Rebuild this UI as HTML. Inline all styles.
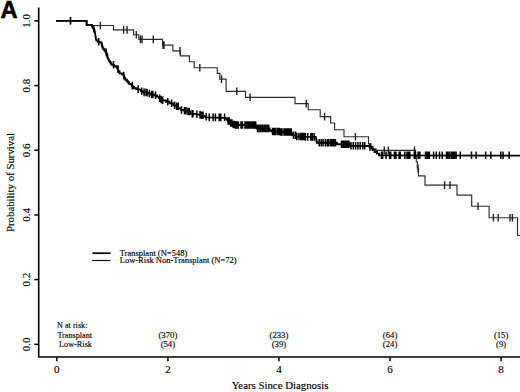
<!DOCTYPE html>
<html><head><meta charset="utf-8"><style>
html,body{margin:0;padding:0;background:#fff;width:520px;height:392px;overflow:hidden}
svg{display:block}
text{font-family:"Liberation Serif",serif;fill:#000;stroke:#000;stroke-width:0.15px}
.tk{font-size:11px}
.ax{font-size:10.8px}
.lg{font-size:8.5px}
.rk{font-size:8.7px}
.A{font-family:"Liberation Sans",sans-serif;font-weight:bold;font-size:23.6px;stroke:#000;stroke-width:0.6px}
</style></head><body>
<svg width="520" height="392" viewBox="0 0 520 392">
<path d="M38.7,7.5 V357 H520" fill="none" stroke="#000" stroke-width="1.6"/>
<path d="M34.3,344.30 H38" stroke="#000" stroke-width="1.5"/>
<text transform="translate(29.9,344.30) rotate(-90)" text-anchor="middle" class="tk">0.0</text>
<path d="M34.3,279.62 H38" stroke="#000" stroke-width="1.5"/>
<text transform="translate(29.9,279.62) rotate(-90)" text-anchor="middle" class="tk">0.2</text>
<path d="M34.3,214.94 H38" stroke="#000" stroke-width="1.5"/>
<text transform="translate(29.9,214.94) rotate(-90)" text-anchor="middle" class="tk">0.4</text>
<path d="M34.3,150.26 H38" stroke="#000" stroke-width="1.5"/>
<text transform="translate(29.9,150.26) rotate(-90)" text-anchor="middle" class="tk">0.6</text>
<path d="M34.3,85.58 H38" stroke="#000" stroke-width="1.5"/>
<text transform="translate(29.9,85.58) rotate(-90)" text-anchor="middle" class="tk">0.8</text>
<path d="M34.3,20.90 H38" stroke="#000" stroke-width="1.5"/>
<text transform="translate(29.9,20.90) rotate(-90)" text-anchor="middle" class="tk">1.0</text>
<path d="M56.80,357.5 V361.3" stroke="#000" stroke-width="1.5"/>
<text x="56.80" y="373.4" text-anchor="middle" class="tk">0</text>
<path d="M167.88,357.5 V361.3" stroke="#000" stroke-width="1.5"/>
<text x="167.88" y="373.4" text-anchor="middle" class="tk">2</text>
<path d="M278.96,357.5 V361.3" stroke="#000" stroke-width="1.5"/>
<text x="278.96" y="373.4" text-anchor="middle" class="tk">4</text>
<path d="M390.04,357.5 V361.3" stroke="#000" stroke-width="1.5"/>
<text x="390.04" y="373.4" text-anchor="middle" class="tk">6</text>
<path d="M501.12,357.5 V361.3" stroke="#000" stroke-width="1.5"/>
<text x="501.12" y="373.4" text-anchor="middle" class="tk">8</text>
<text x="280" y="389.3" text-anchor="middle" class="ax">Years Since Diagnosis</text>
<text transform="translate(14.2,182.5) rotate(-90)" text-anchor="middle" class="ax">Probability of Survival</text>
<polyline points="56.00,20.80 87.00,20.80 87.00,25.50 113.50,25.50 113.50,29.90 133.60,29.90 133.60,34.70 138.80,34.70 138.80,39.40 162.50,39.40 162.50,45.10 172.90,45.10 172.90,50.80 180.40,50.80 180.40,55.90 189.40,55.90 189.40,61.70 194.20,61.70 194.20,67.70 217.30,67.70 217.30,73.40 219.80,73.40 219.80,79.10 226.10,79.10 226.10,91.30 245.50,91.30 245.50,97.30 295.00,97.30 295.00,103.60 308.20,103.60 308.20,109.70 320.20,109.70 320.20,116.60 330.60,116.60 330.60,123.00 334.60,123.00 334.60,129.70 344.00,129.70 344.00,136.70 368.50,136.70 368.50,143.80 371.00,143.80 371.00,146.30 373.00,146.30 373.00,148.80 376.00,148.80 376.00,150.40 415.50,150.40 415.50,156.00 416.30,156.00 416.30,161.70 417.30,161.70 417.30,168.00 418.50,168.00 418.50,175.90 425.00,175.90 425.00,185.10 457.00,185.10 457.00,195.10 471.70,195.10 471.70,206.20 489.10,206.20 489.10,217.70 517.50,217.70 517.50,235.50 521.00,235.50" fill="none" stroke="#2b2b2b" stroke-width="1.15"/>
<polyline points="56.00,20.80 86.50,20.80 86.50,25.00 91.50,25.00 91.88,25.00 91.88,26.25 92.62,26.25 92.62,27.50 93.00,27.50 93.38,27.50 93.38,28.75 94.12,28.75 94.12,30.00 94.50,30.00 95.00,33.00 95.50,36.00 96.00,39.50 96.58,39.50 96.58,40.65 97.72,40.65 97.72,41.80 98.30,41.80 99.80,41.80 99.80,42.40 101.30,42.40 101.52,42.40 101.52,44.13 101.95,44.13 101.95,45.87 102.38,45.87 102.38,47.60 102.60,47.60 103.27,47.60 103.27,49.25 104.62,49.25 104.62,50.90 105.30,50.90 105.67,50.90 105.67,52.40 106.42,52.40 106.42,53.90 106.80,53.90 106.97,53.90 106.97,55.20 107.30,55.20 107.30,56.50 107.63,56.50 107.63,57.80 107.80,57.80 108.30,59.50 108.83,59.50 108.83,60.90 109.88,60.90 109.88,62.30 110.40,62.30 110.83,62.30 110.83,63.55 111.67,63.55 111.67,64.80 112.10,64.80 113.90,64.80 113.90,66.20 115.70,66.20 116.60,66.20 116.60,67.50 117.50,67.50 117.72,67.50 117.72,69.30 118.18,69.30 118.18,71.10 118.40,71.10 119.50,71.10 119.50,73.30 120.60,73.30 121.95,73.30 121.95,74.20 123.30,74.20 123.52,74.20 123.52,75.53 123.95,75.53 123.95,76.87 124.38,76.87 124.38,78.20 124.60,78.20 125.35,78.20 125.35,79.70 126.85,79.70 126.85,81.20 127.60,81.20 128.07,81.20 128.07,82.50 129.03,82.50 129.03,83.80 129.50,83.80 130.55,83.80 130.55,84.40 131.60,84.40 132.00,84.40 132.00,85.60 132.80,85.60 132.80,86.80 133.20,86.80 134.05,86.80 134.05,88.20 134.90,88.20 136.30,88.20 136.30,89.10 137.70,89.10 140.00,89.60 141.00,89.60 141.00,91.30 142.00,91.30 143.25,91.30 143.25,92.40 144.50,92.40 147.00,92.80 148.25,92.80 148.25,93.50 149.50,93.50 150.75,93.50 150.75,94.50 152.00,94.50 153.75,94.50 153.75,95.30 155.50,95.30 157.00,95.30 157.00,96.80 158.50,96.80 159.00,96.80 159.00,98.15 160.00,98.15 160.00,99.50 160.50,99.50 162.35,99.50 162.35,100.30 164.20,100.30 166.00,100.30 166.00,101.70 167.80,101.70 169.55,101.70 169.55,103.30 171.30,103.30 173.35,103.30 173.35,105.30 175.40,105.30 176.30,105.30 176.30,106.20 177.20,106.20 178.30,106.20 178.30,108.40 179.40,108.40 181.05,108.40 181.05,110.00 182.70,110.00 184.40,110.00 184.40,110.70 186.10,110.70 187.80,110.70 187.80,111.50 189.50,111.50 190.50,111.50 190.50,113.70 191.50,113.70 196.70,114.20 199.30,114.80 201.30,115.30 203.30,115.80 204.40,115.80 204.40,116.80 205.50,116.80 206.25,116.80 206.25,117.40 207.00,117.40 225.00,117.80 225.75,117.80 225.75,118.50 226.50,118.50 227.00,118.50 227.00,119.75 228.00,119.75 228.00,121.00 228.50,121.00 229.75,121.00 229.75,123.00 231.00,123.00 232.50,123.00 232.50,124.50 234.00,124.50 235.00,125.00 256.00,125.00 256.50,128.40 268.80,128.40 269.65,128.40 269.65,130.50 270.50,130.50 271.50,130.50 271.50,131.50 272.50,131.50 280.00,132.00 291.40,132.60 291.67,132.60 291.67,133.95 292.23,133.95 292.23,135.30 292.50,135.30 296.25,135.30 296.25,136.50 300.00,136.50 305.00,136.90 315.80,136.90 316.30,140.00 316.48,140.00 316.48,141.35 316.82,141.35 316.82,142.70 317.00,142.70 336.90,142.70 337.00,144.20 349.80,144.20 350.00,145.80 366.50,145.80 368.00,146.00 369.50,146.00 369.50,147.00 371.00,147.00 371.50,147.00 371.50,148.50 372.50,148.50 372.50,150.00 373.00,150.00 374.50,150.00 374.50,152.00 376.00,152.00 377.00,152.00 377.00,153.65 379.00,153.65 379.00,155.30 380.00,155.30 520.00,155.60" fill="none" stroke="#000" stroke-width="1.85"/>
<path d="M70.5,17.0V24.6M100.4,21.7V29.3M123.6,26.1V33.7M127.1,26.1V33.7M136.3,30.9V38.5M140.4,35.6V43.2M142.1,35.6V43.2M153.3,35.6V43.2M163.0,41.3V48.9M164.0,41.3V48.9M180.0,47.0V54.6M199.8,63.9V71.5M221.5,75.3V82.9M236.8,87.5V95.1M250.1,93.5V101.1M306.3,99.8V107.4M324.6,112.8V120.4M355.4,132.9V140.5M384.3,146.6V154.2M388.3,146.6V154.2M414.5,146.6V154.2M418.0,164.2V171.8M444.6,181.3V188.9M450.0,181.3V188.9M478.0,202.4V210.0M493.4,213.9V221.5M498.2,213.9V221.5M510.0,213.9V221.5M512.4,213.9V221.5" stroke="#222" stroke-width="1.4"/>
<path d="M70.5,17.0V24.6M93.7,24.9V32.5M98.8,38.0V45.6M106.3,48.6V56.2M113.5,61.0V68.6M118.0,65.5V73.1M123.7,71.7V79.3M132.2,81.8V89.4M138.1,85.3V92.9M141.8,87.5V95.1M144.1,88.6V96.2M146.1,88.6V96.2M147.1,89.0V96.6M149.4,89.7V97.3M151.7,90.7V98.3M152.8,90.7V98.3M155.5,91.5V99.1M159.6,94.4V102.0M161.1,95.7V103.3M162.7,96.5V104.1M167.8,97.9V105.5M171.6,99.5V107.1M174.6,101.5V109.1M176.6,102.4V110.0M177.4,102.4V110.0M178.2,102.4V110.0M181.5,106.2V113.8M184.5,106.9V114.5M186.0,106.9V114.5M188.0,107.7V115.3M189.2,107.7V115.3M192.2,109.9V117.5M193.0,109.9V117.5M196.8,110.4V118.0M200.0,111.0V118.6M201.5,111.5V119.1M203.0,111.5V119.1M206.2,113.0V120.6M209.2,113.6V121.2M213.1,113.6V121.2M215.4,113.6V121.2M219.2,113.6V121.2M220.8,113.6V121.2M224.6,113.6V121.2M228.0,117.2V124.8M229.3,117.2V124.8M230.6,119.2V126.8M231.9,119.2V126.8M233.2,120.7V128.3M234.5,120.7V128.3M235.8,121.2V128.8M237.1,121.2V128.8M238.4,121.2V128.8M241.0,121.2V128.8M242.5,121.2V128.8M245.0,121.2V128.8M246.3,121.2V128.8M247.6,121.2V128.8M248.9,121.2V128.8M250.2,121.2V128.8M251.8,121.2V128.8M253.1,121.2V128.8M254.4,121.2V128.8M255.7,121.2V128.8M257.5,124.6V132.2M259.1,124.6V132.2M260.7,124.6V132.2M262.3,124.6V132.2M263.9,124.6V132.2M265.5,124.6V132.2M267.1,124.6V132.2M268.7,124.6V132.2M272.6,127.7V135.3M273.7,127.7V135.3M274.8,127.7V135.3M275.9,127.7V135.3M277.8,127.7V135.3M279.2,127.7V135.3M280.6,128.2V135.8M282.0,128.2V135.8M284.0,128.2V135.8M285.3,128.2V135.8M286.6,128.2V135.8M287.9,128.2V135.8M288.8,128.2V135.8M290.0,128.2V135.8M291.2,128.2V135.8M293.5,131.5V139.1M295.5,131.5V139.1M296.8,132.7V140.3M299.0,132.7V140.3M300.8,132.7V140.3M301.9,132.7V140.3M303.1,132.7V140.3M304.2,132.7V140.3M305.4,133.1V140.7M307.7,133.1V140.7M310.8,133.1V140.7M312.3,133.1V140.7M314.2,133.1V140.7M319.2,138.9V146.5M321.2,138.9V146.5M323.1,138.9V146.5M325.4,138.9V146.5M327.3,138.9V146.5M328.8,138.9V146.5M330.8,138.9V146.5M332.3,138.9V146.5M333.8,138.9V146.5M335.4,138.9V146.5M341.5,140.4V148.0M342.7,140.4V148.0M344.0,140.4V148.0M345.2,140.4V148.0M346.5,140.4V148.0M347.7,140.4V148.0M349.0,140.4V148.0M351.0,142.0V149.6M353.3,142.0V149.6M355.6,142.0V149.6M357.9,142.0V149.6M360.2,142.0V149.6M362.8,142.0V149.6M364.8,142.0V149.6M370.0,143.2V150.8M381.5,151.5V159.1M382.6,151.5V159.1M386.1,151.5V159.1M389.6,151.5V159.1M390.7,151.5V159.1M394.5,151.5V159.1M395.9,151.5V159.1M399.1,151.5V159.1M400.2,151.5V159.1M404.9,151.5V159.1M407.1,151.5V159.1M408.6,151.5V159.1M409.8,151.5V159.1M414.4,151.5V159.1M415.5,151.5V159.1M418.2,151.5V159.1M419.8,151.5V159.1M425.5,151.5V159.1M427.1,151.5V159.1M428.6,151.5V159.1M429.4,151.5V159.1M433.6,151.5V159.1M436.3,151.5V159.1M439.5,151.5V159.1M442.2,151.5V159.1M446.5,151.5V159.1M447.6,151.5V159.1M449.2,151.5V159.1M451.1,151.5V159.1M452.2,151.5V159.1M453.4,151.5V159.1M454.5,151.5V159.1M456.1,151.5V159.1M460.3,151.5V159.1M471.5,151.5V159.1M476.1,151.5V159.1M485.7,151.5V159.1M490.8,151.5V159.1M500.8,151.5V159.1M503.0,151.5V159.1M509.2,151.5V159.1" stroke="#000" stroke-width="1.5"/>
<path d="M92.4,253.2 H110.6" stroke="#000" stroke-width="1.7"/>
<path d="M92.2,260.5 H110.6" stroke="#111" stroke-width="1.2"/>
<text x="119.7" y="255.9" class="lg">Transplant (N=548)</text>
<text x="119.7" y="263.3" class="lg">Low-Risk Non-Transplant (N=72)</text>
<text transform="translate(57,328.1) scale(0.94,1)" class="rk">N at risk:</text>
<text transform="translate(57.4,337.8) scale(0.94,1)" class="rk">Transplant</text>
<text transform="translate(59,347) scale(0.95,1)" class="rk">Low-Risk</text>
<text x="167.88" y="337.8" text-anchor="middle" class="rk">(370)</text>
<text x="167.88" y="347.4" text-anchor="middle" class="rk">(54)</text>
<text x="278.96" y="337.8" text-anchor="middle" class="rk">(233)</text>
<text x="278.96" y="347.4" text-anchor="middle" class="rk">(39)</text>
<text x="390.04" y="337.8" text-anchor="middle" class="rk">(64)</text>
<text x="390.04" y="347.4" text-anchor="middle" class="rk">(24)</text>
<text x="501.12" y="337.8" text-anchor="middle" class="rk">(15)</text>
<text x="501.12" y="347.4" text-anchor="middle" class="rk">(9)</text>
<text x="0.4" y="18.1" class="A">A</text>
</svg>
</body></html>
